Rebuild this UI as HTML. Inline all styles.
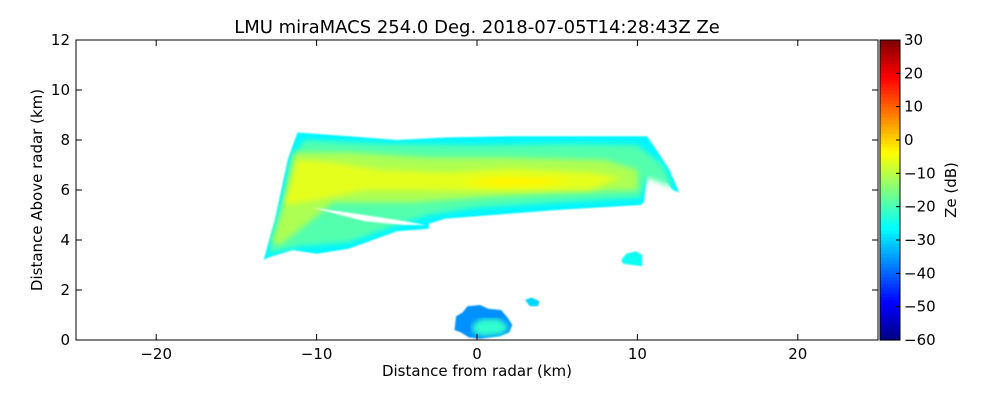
<!DOCTYPE html>
<html><head><meta charset="utf-8">
<style>
html,body{margin:0;padding:0;background:#fff;}
svg{display:block;font-family:"DejaVu Sans","Liberation Sans",sans-serif;}
</style></head>
<body>
<svg id="chart" width="1000" height="400" viewBox="0 0 1000 400">
<defs>
<filter id="soft" x="-5%" y="-5%" width="110%" height="110%"><feGaussianBlur stdDeviation="3"/></filter>
<filter id="edge" x="-5%" y="-5%" width="110%" height="110%"><feGaussianBlur stdDeviation="0.8"/></filter>
<clipPath id="plotclip"><rect x="76" y="40" width="802" height="300"/></clipPath>
</defs>
<rect width="1000" height="400" fill="#fff"/>
<text x="477" y="33" text-anchor="middle" font-size="18">LMU miraMACS 254.0 Deg. 2018-07-05T14:28:43Z  Ze</text>
<g id="echoes" clip-path="url(#plotclip)"></g>
<g id="axes"></g>
</svg>
<script>
// ---- data (km, dB) ----
const xTicks = [-20, -10, 0, 10, 20];
const yTicks = [0, 2, 4, 6, 8, 10, 12];
const cbTicks = [30, 20, 10, 0, -10, -20, -30, -40, -50, -60];
const mainEdge = [[-13.3,3.2],[-12.6,4.8],[-11.8,7.2],[-11.2,8.3],[-8,8.15],[-5,8.0],[-2,8.1],[2,8.15],[6,8.15],[10.6,8.15],[11.2,7.6],[12.0,6.8],[12.6,5.9],[12.2,6.0],[11.4,6.7],[10.6,6.6],[10.4,5.5],[10.2,5.4],[5,5.2],[1,5.0],[-2,4.85],[-3,4.65],[-3.0,4.45],[-5,4.35],[-8,3.65],[-10,3.45],[-11.5,3.6],[-13,3.3]];
const mainEdgeZ = -27;
const greenLayer = [[-13.0,3.5],[-12.3,5.0],[-11.5,7.3],[-10.8,8.0],[-6,7.85],[0,7.8],[6,7.85],[10.0,7.8],[11.6,7.0],[12.2,6.1],[10.6,6.5],[10.2,5.7],[5,5.5],[0,5.3],[-3,5.0],[-5,4.6],[-8,3.9],[-11,3.75],[-12.8,3.5]];
const greenZ = -19;
const yellowLayer = [[-12.8,3.9],[-12.0,5.6],[-11.4,7.5],[-8,7.5],[-3,7.3],[2,7.3],[8,7.2],[10.0,6.8],[10.0,6.0],[5,5.9],[0,5.7],[-4,5.5],[-9,5.5],[-10.5,4.7],[-12.3,3.8]];
const yellowZ = -11;
const coreLayer = [[-12.0,5.4],[-11.2,7.2],[-9,7.1],[-6,6.8],[-2,6.7],[2,6.85],[7,6.7],[9,6.5],[7,6.0],[2,5.95],[-3,6.0],[-7,6.0],[-10,5.6]];
const coreZ = -6;
const hotLayer = [[-1,6.3],[1.5,6.55],[4,6.5],[6,6.4],[4,6.15],[1,6.1]];
const hotZ = -3;
const gapWedge = [[-10.3,5.3],[-7,5.0],[-4.5,4.75],[-3.2,4.6],[-4.5,4.6],[-7,4.75]];
const blobA = [[-1.4,0.4],[-1.3,0.95],[-0.9,1.1],[-0.6,1.35],[0.2,1.4],[0.7,1.25],[1.5,1.2],[1.9,0.9],[2.2,0.6],[2.0,0.3],[1.4,0.15],[0.2,0.05],[-0.5,0.1],[-1.0,0.3]];
const blobAZ = -36;
const blobAcore = [[-0.3,0.6],[0.3,0.85],[1.3,0.85],[2.0,0.55],[1.6,0.25],[0.5,0.15],[-0.2,0.25]];
const blobAcoreZ = -22;
const blobB = [[9.0,3.2],[9.3,3.45],[9.9,3.55],[10.3,3.4],[10.3,2.95],[9.7,3.0],[9.1,3.05]];
const blobBZ = -25;
const blobC = [[3.0,1.6],[3.4,1.7],[3.9,1.55],[3.8,1.35],[3.3,1.35]];
const blobCZ = -30;

const X0 = 76, X1 = 878, Y0 = 340, Y1 = 40;
const xmin = -25, xmax = 25, ymin = 0, ymax = 12, zmin = -60, zmax = 30;
const sx = v => X0 + (v - xmin) / (xmax - xmin) * (X1 - X0);
const sy = v => Y0 - (v - ymin) / (ymax - ymin) * (Y0 - Y1);
const sz = v => Y0 - (v - zmin) / (zmax - zmin) * (Y0 - Y1);
function jet(z){
  let t = (z - zmin) / (zmax - zmin); t = Math.max(0, Math.min(1, t));
  const f = x => Math.max(0, Math.min(1, 1.5 - Math.abs(4 * t - x)));
  return `rgb(${Math.round(255*f(3))},${Math.round(255*f(2))},${Math.round(255*f(1))})`;
}
const NS = "http://www.w3.org/2000/svg";
function mk(tag, attrs, parent){ const e = document.createElementNS(NS, tag); for (const k in attrs) e.setAttribute(k, attrs[k]); parent.appendChild(e); return e; }
const pts = p => p.map(q => sx(q[0]).toFixed(1) + "," + sy(q[1]).toFixed(1)).join(" ");
const echoes = document.getElementById("echoes");
const axes = document.getElementById("axes");

function layer(poly, z, name, filt){
  const e = mk("polygon", {points: pts(poly), fill: jet(z), filter: filt}, echoes);
  
  
}
layer(mainEdge, mainEdgeZ, "echo-main-edge", "url(#edge)");
layer(greenLayer, greenZ, "echo-main-green", "url(#soft)");
layer(yellowLayer, yellowZ, "echo-main-yellow", "url(#soft)");
layer(coreLayer, coreZ, "echo-main-core", "url(#soft)");
layer(hotLayer, hotZ, "echo-main-hot", "url(#soft)");
const gap = mk("polygon", {points: pts(gapWedge), fill: "#fff", filter: "url(#edge)"}, echoes);


layer(blobA, blobAZ, "echo-near-radar", "url(#edge)");
layer(blobAcore, blobAcoreZ, "echo-near-radar-core", "url(#soft)");
layer(blobB, blobBZ, "echo-small-east", "url(#edge)");
layer(blobC, blobCZ, "echo-small-mid", "url(#edge)");

const frame = mk("rect", {x: X0, y: Y1, width: X1 - X0, height: Y0 - Y1, fill: "none", stroke: "#000", "stroke-width": 1}, axes);


xTicks.forEach(v => {
  const x = sx(v);
  mk("line", {x1: x, y1: Y0, x2: x, y2: Y0 - 6, stroke: "#000"}, axes);
  mk("line", {x1: x, y1: Y1, x2: x, y2: Y1 + 6, stroke: "#000"}, axes);
  const t = mk("text", {x: x, y: Y0 + 19, "text-anchor": "middle", "font-size": 15}, axes);
  t.textContent = (v < 0 ? "\u2212" + (-v) : v);
  
  
});
yTicks.forEach(v => {
  const y = sy(v);
  mk("line", {x1: X0, y1: y, x2: X0 + 6, y2: y, stroke: "#000"}, axes);
  mk("line", {x1: X1, y1: y, x2: X1 - 6, y2: y, stroke: "#000"}, axes);
  const t = mk("text", {x: X0 - 6, y: y + 5, "text-anchor": "end", "font-size": 15}, axes);
  t.textContent = v;
  
  
});
const xt = mk("text", {x: 477, y: 376, "text-anchor": "middle", "font-size": 15}, axes);
xt.textContent = "Distance from radar (km)";


const yt = mk("text", {x: 0, y: 0, "text-anchor": "middle", "font-size": 15, transform: "translate(42,190) rotate(-90)"}, axes);
yt.textContent = "Distance Above radar  (km)";



const CB0 = 880, CB1 = 900;
const cb = mk("g", {}, axes);


for (let z = zmin; z < zmax; z += 1) {
  mk("rect", {x: CB0, y: sz(z + 1), width: CB1 - CB0, height: sz(z) - sz(z + 1) + 0.6, fill: jet(z + 0.5)}, cb);
}
mk("rect", {x: CB0, y: Y1, width: CB1 - CB0, height: Y0 - Y1, fill: "none", stroke: "#000"}, cb);
cbTicks.forEach(v => {
  const y = sz(v);
  mk("line", {x1: CB1, y1: y, x2: CB1 - 4, y2: y, stroke: "#000"}, cb);
  const t = mk("text", {x: 904, y: y + 5, "font-size": 15}, cb);
  t.textContent = (v < 0 ? "\u2212" + (-v) : v);
  
  
});
const cbt = mk("text", {x: 0, y: 0, "text-anchor": "middle", "font-size": 15, transform: "translate(956,190) rotate(-90)"}, cb);
cbt.textContent = "Ze (dB)";


</script>
</body></html>
